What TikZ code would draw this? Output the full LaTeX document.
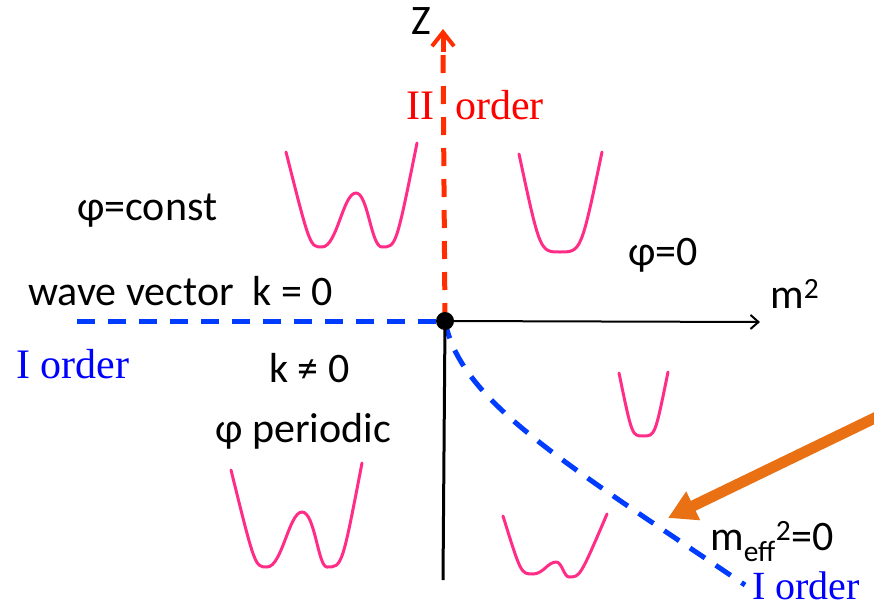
\documentclass[tikz,border=0pt]{standalone}
\usepackage{fontspec}
\setmainfont{Carlito}
\newfontfamily\serifface{Liberation Serif}
\usetikzlibrary{arrows.meta}
\definecolor{zred}{RGB}{255,45,0}
\definecolor{dblue}{RGB}{0,60,255}
\definecolor{tblue}{RGB}{0,0,255}
\definecolor{tred}{RGB}{255,0,0}
\definecolor{wellpink}{RGB}{255,45,135}
\definecolor{arrorange}{RGB}{233,113,19}
\begin{document}
\begin{tikzpicture}[x=1pt,y=1pt,
  sans/.style={font=\fontsize{42}{50}\selectfont, inner sep=0pt, anchor=base west},
  serif/.style={font=\serifface\fontsize{42}{50}\selectfont, inner sep=0pt, anchor=base west},
  well/.style={draw=wellpink, line width=3pt, line cap=round, line join=round},
  bluedash/.style={draw=dblue, line width=5pt, dash pattern=on 18pt off 13pt},
  reddash/.style={draw=zred, line width=5pt, dash pattern=on 18pt off 13pt}]
\clip (0,0) rectangle (874,-607);
\fill[white] (0,0) rectangle (874,-607);

% coordinates
\coordinate (ztip) at (443,-29);
\coordinate (zdash) at (443,-52);
\coordinate (mtip) at (760,-322);
\coordinate (bot) at (443,-580);
\coordinate (leftend) at (77,-321);
\coordinate (cend) at (745,-585);
\coordinate (ostart) at (885,-413);
\coordinate (otip) at (668,-518);
\coordinate (Oc) at (445,-321);

% axes and lines
\draw[reddash] (Oc) -- (zdash);
\draw[zred, line width=5pt, -{Straight Barb[length=14pt,width=22pt,line width=4pt]}] (zdash) -- (ztip);
\draw[bluedash] (leftend) -- (Oc);
\draw[bluedash] (Oc) .. controls (460,-400) and (560,-460) .. (cend);
\draw[line width=2pt, -{Straight Barb[length=8pt,width=14pt]}] (Oc) -- (mtip);
\draw[line width=3pt] (Oc) -- (bot);
\draw[arrorange, line width=11pt, -{Triangle[length=28pt,width=30pt]}] (ostart) -- (otip);
\node[circle, fill=black, inner sep=0pt, minimum size=18pt] (O) at (Oc) {};

% potential wells
\draw[well] (286,-152) .. controls (310,-247) .. (322,-247)
  .. controls (337,-247) and (343,-193) .. (356,-193)
  .. controls (368,-193) and (371,-247) .. (382,-247)
  .. controls (396,-247) .. (417,-143);
\draw[well] (519,-154) .. controls (540,-252) .. (560,-252) .. controls (581,-252) .. (602,-152);
\draw[well] (619,-373) .. controls (632,-436) .. (643,-436) .. controls (655,-436) .. (668,-372);
\draw[well] (231,-470) .. controls (255,-567) .. (267,-567)
  .. controls (282,-567) and (289,-512) .. (302,-512)
  .. controls (315,-512) and (318,-567) .. (327,-567)
  .. controls (342,-567) .. (362,-463);
\draw[well] (503,-516) .. controls (521,-574) .. (533,-574)
  .. controls (543,-574) and (548,-562) .. (556,-562)
  .. controls (562,-562) and (564,-577) .. (569,-577)
  .. controls (580,-577) .. (607,-514);

% labels
\node[sans] (zlab) at (411,-35) {Z};
\node[serif, text=tred] (IIord) at (406,-119) {II\hspace{0.5em}order};
\node[serif, text=tblue] (Iord) at (16,-378) {I order};
\node[serif, text=tblue, font=\serifface\fontsize{40}{48}\selectfont, text depth=0pt] (Iord2) at (752,-599) {I order};
\node[sans] (const) at (77,-220) {φ=const};
\node[sans] (wave) at (28,-305) {wave vector\ \ k = 0};
\node[sans] (kne) at (269,-382) {k ≠ 0};
\node[sans] (per) at (215,-442) {φ periodic};
\node[sans] (zero) at (628,-265) {φ=0};
\node[sans] (msq) at (770,-308) {m\textsuperscript{2}};
\node[sans] (meff) at (710,-550) {m\textsubscript{eff}\textsuperscript{2}=0};
\end{tikzpicture}
\end{document}
